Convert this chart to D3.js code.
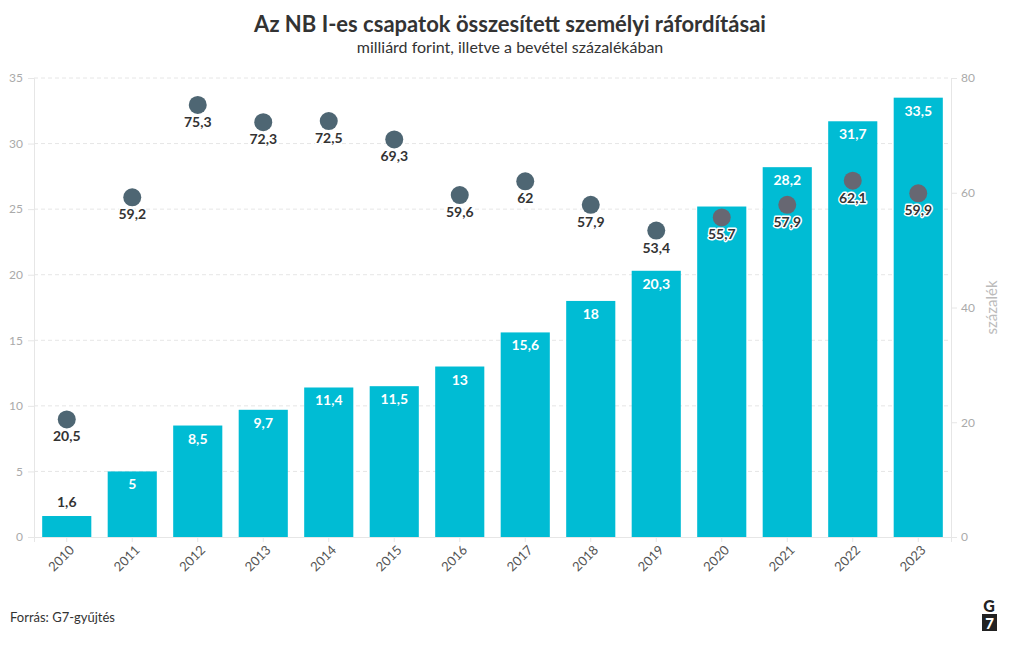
<!DOCTYPE html>
<html><head><meta charset="utf-8">
<script src="https://cdn.jsdelivr.net/npm/d3@7"></script>
<style>
body{margin:0;background:#fff;}
text{font-family:Lato,"Open Sans",sans-serif;}
</style></head>
<body><svg id="c" width="1020" height="650"></svg>
<script>
const years = ["2010","2011","2012","2013","2014","2015","2016","2017","2018","2019","2020","2021","2022","2023"];
const costs = [1.6,5,8.5,9.7,11.4,11.5,13,15.6,18,20.3,25.2,28.2,31.7,33.5];
const shares = [20.5,59.2,75.3,72.3,72.5,69.3,59.6,62,57.9,53.4,55.7,57.9,62.1,59.9];
const leftTicks = [0,5,10,15,20,25,30,35];
const rightTicks = [0,20,40,60,80];

const svg = d3.select("#c");
const L = 34, R = 951, T = 78, B = 537;
const x = d3.scaleBand().domain(years).range([L,R]).paddingInner(0.25).paddingOuter(0.125);
const y = d3.scaleLinear().domain([0,35]).range([B,T]);
const y2 = d3.scaleLinear().domain([0,80]).range([B,T]);
const fmt = v => String(v).replace(".", ",");

svg.append("text").attr("x",510).attr("y",32).attr("text-anchor","middle")
  .attr("font-size",22).attr("font-weight",700).attr("fill","#333")
  .text("Az NB I-es csapatok összesített személyi ráfordításai");
svg.append("text").attr("x",510).attr("y",53).attr("text-anchor","middle")
  .attr("font-size",16).attr("fill","#333").text("milliárd forint, illetve a bevétel százalékában");

// grid
svg.append("g").selectAll("line").data(leftTicks.filter(d=>d>0)).join("line")
  .attr("x1",L).attr("x2",R).attr("y1",d=>y(d)).attr("y2",d=>y(d))
  .attr("stroke","#e6e6e6").attr("stroke-dasharray","4,3");

// left axis
const la = svg.append("g").attr("transform",`translate(${L},0)`)
  .call(d3.axisLeft(y).tickValues(leftTicks).tickSize(6).tickPadding(5));
la.select(".domain").attr("stroke","#e6e6e6");
la.selectAll("line").attr("stroke","#e6e6e6");
la.selectAll("text").attr("fill","#aaa").attr("font-size",12).attr("font-family","Lato,sans-serif");

// right axis
const ra = svg.append("g").attr("transform",`translate(${R},0)`)
  .call(d3.axisRight(y2).tickValues(rightTicks).tickSize(6).tickPadding(4));
ra.select(".domain").attr("stroke","#e6e6e6");
ra.selectAll("line").attr("stroke","#e6e6e6");
ra.selectAll("text").attr("fill","#aaa").attr("font-size",12).attr("font-family","Lato,sans-serif");
svg.append("text").attr("transform",`translate(997,${(T+B)/2}) rotate(-90)`)
  .attr("text-anchor","middle").attr("font-size",15).attr("fill","#bbb").text("százalék");

// bottom axis
const ba = svg.append("g").attr("transform",`translate(0,${B})`)
  .call(d3.axisBottom(x).tickSize(5).tickPadding(3));
ba.select(".domain").attr("stroke","#e6e6e6");
ba.selectAll("line").attr("stroke","#e6e6e6");
ba.selectAll("text").attr("fill","#555").attr("font-size",13).attr("font-family","Lato,sans-serif")
  .attr("text-anchor","end").attr("dx","-0.3em").attr("dy","0.6em").attr("transform","rotate(-45)");

// bars
svg.append("g").selectAll("rect").data(years).join("rect")
  .attr("x",d=>x(d)).attr("width",x.bandwidth())
  .attr("y",(d,i)=>y(costs[i])).attr("height",(d,i)=>B-y(costs[i]))
  .attr("fill","#00bcd4");
// bar labels (hidden where they collide with the dot)
const barLabelY = i => costs[i] < 3 ? y(costs[i]) - 9 : y(costs[i]) + 18;
const visibleBar = years.map((d,i) => Math.abs(y2(shares[i]) - (barLabelY(i) - 5)) > 16);
svg.append("g").selectAll("text").data(years.filter((d,i)=>visibleBar[i])).join("text")
  .attr("x",d=>x(d)+x.bandwidth()/2).attr("text-anchor","middle")
  .attr("y",d=>barLabelY(years.indexOf(d)))
  .attr("fill",d=> costs[years.indexOf(d)] < 3 ? "#333" : "#fff")
  .attr("font-size",14).attr("font-weight",700)
  .text(d=>fmt(costs[years.indexOf(d)]));

// dots
svg.append("g").selectAll("circle").data(years).join("circle")
  .attr("cx",d=>x(d)+x.bandwidth()/2).attr("cy",(d,i)=>y2(shares[i])).attr("r",9)
  .attr("fill",(d,i)=> y2(shares[i]) > y(costs[i]) ? "#676772" : "#4e6673");
svg.append("g").selectAll("text").data(years).join("text")
  .attr("x",d=>x(d)+x.bandwidth()/2).attr("text-anchor","middle")
  .attr("y",(d,i)=>y2(shares[i]) + 22)
  .attr("fill","#333").attr("font-size",14).attr("font-weight",700)
  .attr("stroke","#fff").attr("stroke-width",3).attr("paint-order","stroke").attr("stroke-linejoin","round")
  .text((d,i)=>fmt(shares[i]));

// footer
svg.append("text").attr("x",10).attr("y",622).attr("font-size",13).attr("fill","#333").text("Forrás: G7-gyűjtés");
const lg = svg.append("g");
lg.append("text").attr("x",989).attr("y",612).attr("text-anchor","middle").attr("font-size",16).attr("font-weight",900).attr("fill","#222").text("G");
lg.append("rect").attr("x",982).attr("y",614).attr("width",15).attr("height",17).attr("fill","#222");
lg.append("text").attr("x",989.5).attr("y",629).attr("text-anchor","middle").attr("font-size",15).attr("font-weight",900).attr("fill","#fff").text("7");
</script></body></html>
